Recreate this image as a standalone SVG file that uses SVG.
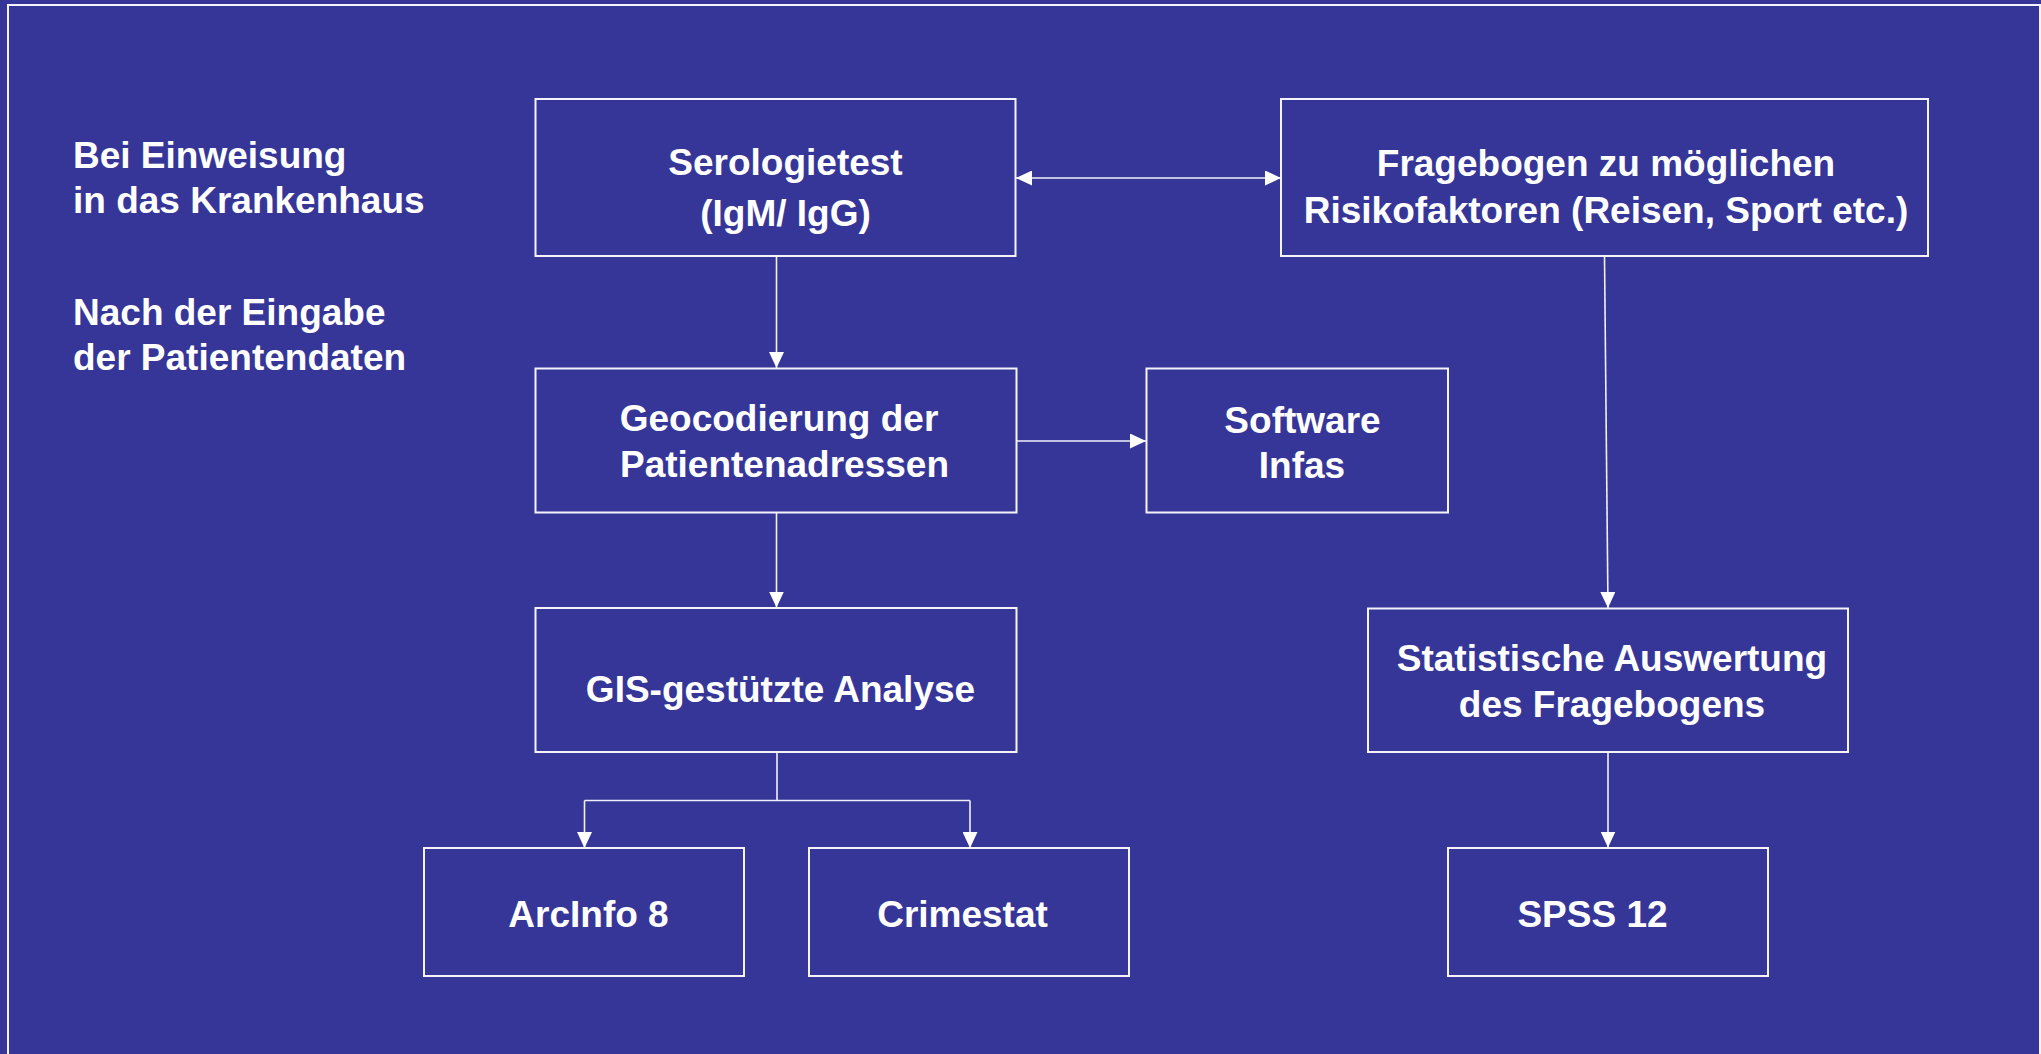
<svg xmlns="http://www.w3.org/2000/svg" width="2041" height="1054" viewBox="0 0 2041 1054">
  <defs>
    <marker id="arrow" viewBox="0 0 16 15" markerWidth="16" markerHeight="15" refX="16" refY="7.5" markerUnits="userSpaceOnUse" orient="auto-start-reverse">
      <path d="M0,0 L16,7.5 L0,15 z" fill="#ffffff"/>
    </marker>
    <style>
      .bg { fill: #363699; }
      .frame { fill: none; stroke: #f4f4fb; stroke-width: 2; }
      .box { fill: #363699; stroke: #f4f4fb; stroke-width: 2; }
      .t { font-family: "Liberation Sans", Arial, sans-serif; font-weight: bold; font-size: 37px; fill: #ffffff; }
      .c { text-anchor: middle; }
      .conn { fill: none; stroke: #f0f0fa; stroke-width: 1.6; }
    </style>
  </defs>

  <rect class="bg" x="0" y="0" width="2041" height="1054"/>
  <rect class="frame" x="8" y="5" width="2032" height="1060"/>

  <g id="labels">
    <text class="t" x="73" y="168">Bei Einweisung</text>
    <text class="t" x="73" y="213">in das Krankenhaus</text>
    <text class="t" x="73" y="325">Nach der Eingabe</text>
    <text class="t" x="73" y="370">der Patientendaten</text>
  </g>

  <g id="connectors">
    <line class="conn" x1="1016" y1="178" x2="1281" y2="178" marker-start="url(#arrow)" marker-end="url(#arrow)"/>
    <line class="conn" x1="776.5" y1="256" x2="776.5" y2="368" marker-end="url(#arrow)"/>
    <line class="conn" x1="1016.5" y1="441" x2="1146" y2="441" marker-end="url(#arrow)"/>
    <line class="conn" x1="776.5" y1="512" x2="776.5" y2="607.5" marker-end="url(#arrow)"/>
    <path class="conn" d="M777,752 V800.5"/>
    <path class="conn" d="M584.5,800.5 H970"/>
    <line class="conn" x1="584.5" y1="800.5" x2="584.5" y2="848" marker-end="url(#arrow)"/>
    <line class="conn" x1="970" y1="800.5" x2="970" y2="848" marker-end="url(#arrow)"/>
    <line class="conn" x1="1604.5" y1="256" x2="1608" y2="608" marker-end="url(#arrow)"/>
    <line class="conn" x1="1608" y1="752" x2="1608" y2="847.5" marker-end="url(#arrow)"/>
  </g>

  <g id="serologietest">
    <rect class="box" x="535.5" y="99" width="480" height="157"/>
    <text class="t c" x="785.5" y="175">Serologietest</text>
    <text class="t c" x="785.5" y="226">(IgM/ IgG)</text>
  </g>

  <g id="fragebogen">
    <rect class="box" x="1281" y="99" width="647" height="157"/>
    <text class="t c" x="1606" y="176">Fragebogen zu möglichen</text>
    <text class="t c" x="1606" y="223">Risikofaktoren (Reisen, Sport etc.)</text>
  </g>

  <g id="geocodierung">
    <rect class="box" x="535.5" y="368.5" width="481" height="144"/>
    <text class="t c" x="779" y="431">Geocodierung der</text>
    <text class="t c" x="784.5" y="477">Patientenadressen</text>
  </g>

  <g id="software">
    <rect class="box" x="1146.5" y="368.5" width="301.5" height="144"/>
    <text class="t c" x="1302.5" y="433">Software</text>
    <text class="t c" x="1302" y="478">Infas</text>
  </g>

  <g id="gis">
    <rect class="box" x="535.5" y="608" width="481" height="144"/>
    <text class="t c" x="780.5" y="702">GIS-gestützte Analyse</text>
  </g>

  <g id="statistische">
    <rect class="box" x="1368" y="608.5" width="480" height="143.5"/>
    <text class="t c" x="1612" y="671">Statistische Auswertung</text>
    <text class="t c" x="1612" y="717">des Fragebogens</text>
  </g>

  <g id="arcinfo">
    <rect class="box" x="424" y="848" width="320" height="128"/>
    <text class="t c" x="588.5" y="927">ArcInfo 8</text>
  </g>

  <g id="crimestat">
    <rect class="box" x="809" y="848" width="320" height="128"/>
    <text class="t c" x="962.5" y="927">Crimestat</text>
  </g>

  <g id="spss">
    <rect class="box" x="1448" y="848" width="320" height="128"/>
    <text class="t c" x="1592.5" y="927">SPSS 12</text>
  </g>
</svg>
